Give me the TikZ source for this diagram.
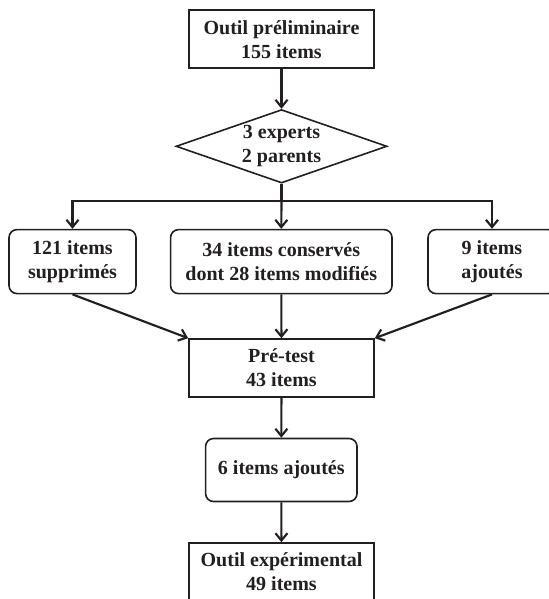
\documentclass[tikz,border=0pt]{standalone}
\usepackage{fontspec}
\setmainfont{Liberation Serif}
\usetikzlibrary{shapes.geometric,arrows.meta}
\definecolor{encre}{HTML}{231F20}

\tikzset{
  txt/.style={text=encre, align=center, font=\fontsize{15}{18}\selectfont\bfseries},
  boite/.style={txt, draw=encre, line width=1.2pt, inner sep=0pt, minimum width=138.75pt, minimum height=43.5pt},
  arrondi/.style={boite, rounded corners=6pt, minimum height=48pt},
  losange/.style={txt, draw=encre, line width=1.2pt, diamond, aspect=2.87, inner sep=0pt, minimum width=158.25pt, minimum height=55.1pt},
  fleche/.style={draw=encre, line width=1.6pt, -{Straight Barb[length=5.5pt,width=9pt]}}
}

\begin{document}
\begin{tikzpicture}[x=0.75pt,y=-0.75pt]
\useasboundingbox (0,0) rectangle (549,599);
\clip (0,0) rectangle (549,599);
% Etapes
\node[boite] (prelim) at (281.5,39.3) {Outil préliminaire\\155 items};
\node[losange] (jury) at (281.5,146.3) {3 experts\\2 parents};
\node[arrondi, minimum width=95.25pt] (suppr) at (72.5,261.6) {121 items\\supprimés};
\node[arrondi, minimum width=166.1pt] (conserv) at (281.3,261.6) {34 items conservés\\dont 28 items modifiés};
\node[arrondi, minimum width=96pt] (ajout) at (492,261.6) {9 items\\ajoutés};
\node[boite] (pretest) at (281.5,368) {Pré-test\\43 items};
\node[arrondi, minimum width=113.6pt, minimum height=47.25pt] (ajout6) at (281.3,470) {6 items ajoutés};
\node[boite] (final) at (281.5,572) {Outil expérimental\\49 items};
\coordinate (embr) at (281.5,201);
% Fleches
\draw[fleche] (prelim) -- (jury);
\draw[fleche] (jury.south) -- (embr) -| (suppr.north);
\draw[fleche] (embr) -| (ajout.north);
\draw[fleche] (embr) -- (conserv.north);
\draw[fleche] (suppr.south) -- (pretest.north west);
\draw[fleche] (conserv) -- (pretest);
\draw[fleche] (ajout.south) -- (pretest.north east);
\draw[fleche] (pretest) -- (ajout6);
\draw[fleche] (ajout6) -- (final);
\end{tikzpicture}
\end{document}
